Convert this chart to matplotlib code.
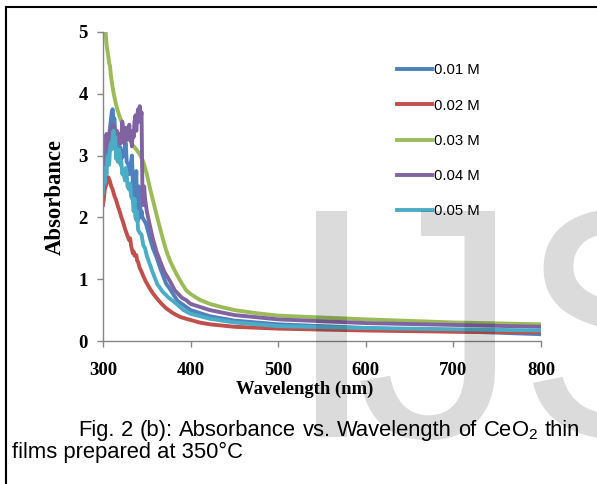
import matplotlib
matplotlib.use("Agg")
import matplotlib.pyplot as plt
from matplotlib.lines import Line2D
from matplotlib.textpath import TextPath
from matplotlib.patches import PathPatch
from matplotlib.font_manager import FontProperties
from matplotlib.transforms import Affine2D, IdentityTransform

plt.rcParams['mathtext.fontset'] = 'custom'
plt.rcParams['mathtext.rm'] = 'Liberation Sans'

# absorbance spectra of the CeO2 films (wavelength in nm)
wl_01 = [300, 302, 304, 306, 308, 310, 311, 312, 313, 314, 315, 316, 318, 319, 321, 323, 324, 326, 327,
         329, 330, 332, 333, 334, 335, 336, 337, 338, 339, 340, 341, 342, 343, 344, 345, 347, 349, 353,
         357, 361, 366, 372, 376, 385, 395, 400, 422, 450, 500, 600, 700, 800]
abs_01 = [2.75, 2.9, 3.0, 3.2, 3.45, 3.7, 3.75, 3.55, 3.6, 3.35, 3.1, 3.2, 3.05, 3.15, 2.95, 3.0, 3.1, 3.2, 2.9,
          2.85, 2.7, 2.9, 3.0, 2.6, 2.3, 2.5, 2.3, 2.75, 2.0, 1.95, 2.5, 2.35, 2.0, 2.1, 2.0, 1.95, 1.9, 1.69,
          1.5, 1.36, 1.15, 0.93, 0.85, 0.65, 0.55, 0.5, 0.4, 0.33, 0.27, 0.21, 0.16, 0.11]

wl_02 = [300, 301, 302, 303, 304, 305, 306, 307, 308, 309, 311, 313, 315, 317, 319, 321, 323, 325, 327,
         329, 330, 331, 332, 334, 335, 336, 338, 339, 340, 342, 344, 346, 349, 353, 357, 362, 367, 372,
         380, 388, 395, 400, 410, 422, 450, 500, 600, 700, 800]
abs_02 = [2.2, 2.3, 2.45, 2.5, 2.55, 2.6, 2.65, 2.62, 2.58, 2.52, 2.45, 2.35, 2.28, 2.18, 2.1, 2.0, 1.92, 1.82, 1.74,
          1.66, 1.63, 1.66, 1.55, 1.42, 1.45, 1.38, 1.39, 1.3, 1.28, 1.18, 1.12, 1.05, 0.96, 0.86, 0.77, 0.68, 0.6, 0.53,
          0.45, 0.39, 0.36, 0.34, 0.3, 0.27, 0.23, 0.2, 0.17, 0.15, 0.14]

wl_03 = [300, 303, 304, 305, 306, 307, 308, 309, 310, 311, 313, 315, 317, 319, 323, 327, 330, 334, 338,
         342, 346, 350, 354, 357, 361, 365, 369, 372, 377, 384, 390, 395, 400, 410, 422, 435, 450, 475,
         500, 550, 600, 700, 800]
abs_03 = [5.0, 5.0, 4.8, 4.7, 4.62, 4.5, 4.45, 4.3, 4.2, 4.1, 3.95, 3.82, 3.72, 3.63, 3.48, 3.36, 3.27, 3.17, 3.1,
          3.02, 2.9, 2.7, 2.45, 2.28, 2.05, 1.83, 1.62, 1.47, 1.28, 1.08, 0.93, 0.82, 0.76, 0.67, 0.6, 0.55, 0.5, 0.45,
          0.41, 0.38, 0.35, 0.3, 0.27]

wl_04 = [300, 301, 302, 303, 304, 305, 306, 307, 308, 309, 310, 311, 312, 313, 314, 315, 316, 317, 318,
         319, 320, 321, 322, 323, 324, 325, 326, 327, 328, 329, 330, 331, 332, 333, 334, 335, 336, 337,
         338, 339, 340, 341, 342, 343, 344, 345, 346, 347, 348, 350, 353, 357, 361, 365, 370, 376, 382,
         390, 395, 400, 422, 450, 500, 600, 700, 800]
abs_04 = [2.9, 3.15, 3.3, 3.1, 3.35, 3.2, 3.3, 3.15, 3.4, 3.3, 3.45, 3.5, 3.3, 3.45, 3.25, 3.35, 3.4, 3.3, 3.2,
          3.35, 3.2, 3.3, 3.55, 3.35, 3.2, 3.3, 3.45, 3.25, 3.4, 3.3, 3.5, 3.25, 3.35, 3.15, 3.4, 3.3, 3.55, 3.65,
          3.4, 3.6, 3.75, 3.55, 3.8, 3.6, 3.7, 2.4, 2.2, 2.5, 2.3, 2.1, 1.9, 1.65, 1.45, 1.3, 1.12, 0.98, 0.82,
          0.7, 0.66, 0.6, 0.5, 0.42, 0.35, 0.29, 0.26, 0.23]

wl_05 = [300, 301, 302, 303, 304, 305, 306, 307, 308, 309, 310, 311, 312, 313, 314, 315, 316, 317, 318,
         319, 320, 321, 322, 323, 325, 326, 327, 328, 330, 331, 332, 334, 335, 336, 337, 338, 339, 340,
         342, 344, 346, 348, 350, 353, 357, 362, 368, 375, 384, 392, 400, 422, 450, 500, 600, 700, 800]
abs_05 = [2.4, 2.65, 2.55, 2.8, 2.7, 2.95, 3.0, 2.85, 3.1, 3.2, 3.1, 3.3, 3.4, 3.2, 3.3, 2.95, 3.05, 2.9, 3.1,
          3.05, 2.85, 2.9, 2.7, 2.75, 2.6, 2.8, 2.7, 2.5, 2.45, 2.55, 2.35, 2.28, 2.1, 2.3, 2.0, 1.96, 2.1, 1.8,
          1.75, 1.72, 1.55, 1.5, 1.38, 1.26, 1.1, 0.92, 0.8, 0.7, 0.6, 0.5, 0.44, 0.36, 0.3, 0.24, 0.21, 0.19, 0.17]

labels = ['0.01 M', '0.02 M', '0.03 M', '0.04 M', '0.05 M']
colors = ['#4F81BD', '#C0504D', '#9BBB59', '#8064A2', '#4BACC6']
series = [(wl_01, abs_01), (wl_02, abs_02), (wl_03, abs_03), (wl_04, abs_04), (wl_05, abs_05)]

W, H = 597, 484
fig = plt.figure(figsize=(W / 100, H / 100), dpi=100)
ax = fig.add_axes([103 / W, 1 - 341 / H, 438 / W, 309 / H])

for (x, y), lab, c in zip(series, labels, colors):
    ax.plot(x, y, color=c, lw=2.8, label=lab, solid_joinstyle='round')

ax.set_xlim(300, 800)
ax.set_ylim(0, 5)
ax.set_xticks(range(300, 801, 100))
ax.set_yticks(range(0, 6))
for s in ['top', 'right']:
    ax.spines[s].set_visible(False)
for s in ['left', 'bottom']:
    ax.spines[s].set_color('#868686')
    ax.spines[s].set_linewidth(1.0)
ax.tick_params(axis='both', direction='out', length=4, width=1.0, color='#868686')
ax.tick_params(axis='x', pad=11)
ax.tick_params(axis='y', pad=7)
tfont = dict(family='Liberation Serif', weight='bold', size=13.5)
for t in ax.get_xticklabels() + ax.get_yticklabels():
    t.set_fontproperties(FontProperties(**tfont))

ax.set_xlabel('Wavelength (nm)', family='Liberation Serif', weight='bold', size=13.4)
ax.xaxis.set_label_coords((305 - 103) / 438, -0.13)
ax.set_ylabel('Absorbance', family='Liberation Serif', weight='bold', size=16.3)
ax.yaxis.set_label_coords((66 - 103) / 438, (341 - 197) / 309)

leg = ax.legend(loc='upper left', bbox_to_anchor=(384 / W, 1 - 50 / H), bbox_transform=fig.transFigure,
                frameon=False, handlelength=2.3, handletextpad=0.15, labelspacing=1.43,
                prop=dict(family=['Liberation Sans Narrow', 'Liberation Sans'], size=10.7))

# page border
fig.add_artist(Line2D([6 / W, 6 / W], [0, 1 - 6.5 / H], color='black', lw=1.5))
fig.add_artist(Line2D([6 / W, 1], [1 - 6.5 / H, 1 - 6.5 / H], color='black', lw=1.5))


def justified_line(words, x0, x1, y, **kw):
    r = fig.canvas.get_renderer()
    texts = [fig.text(0, y, w, **kw) for w in words]
    widths = [t.get_window_extent(r).width for t in texts]
    gap = (x1 - x0 - sum(widths)) / (len(words) - 1)
    x = x0
    for t, w in zip(texts, widths):
        t.set_x(x / W)
        x += w + gap


cap = dict(family='Liberation Sans', size=15.8, va='baseline', ha='left')
justified_line(['Fig.', '2', '(b):', 'Absorbance', 'vs.', 'Wavelength', 'of', r'CeO$_2$', 'thin'],
               78, 580, 1 - 436 / H, **cap)
fig.text(12 / W, 1 - 458 / H, 'films prepared at 350°C', **cap)

# journal watermark, glyph outlines placed in pixel coordinates
wm_font = FontProperties(family='Liberation Sans')
base_y = H - 437
cap_px = 226
ref = TextPath((0, 0), 'I', size=1, prop=wm_font).get_extents()
em = cap_px / ref.height


def glyph(ch, x_edge, side):
    tp = TextPath((0, 0), ch, size=em, prop=wm_font)
    ext = tp.get_extents()
    dx = x_edge - (ext.x0 if side == 'left' else ext.x1)
    path = Affine2D().translate(dx, base_y).transform_path(tp)
    fig.add_artist(PathPatch(path, facecolor='black', edgecolor='none', alpha=0.14,
                             transform=IdentityTransform(), zorder=5))


glyph('I', 316, 'left')
glyph('J', 495, 'right')
glyph('S', 533, 'left')

fig.savefig('out.png', dpi=100)
